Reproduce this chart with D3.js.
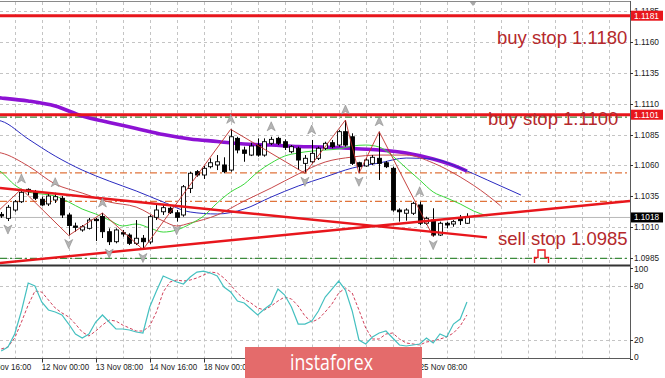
<!DOCTYPE html>
<html><head><meta charset="utf-8">
<script src="https://cdn.jsdelivr.net/npm/d3@7"></script>
<style>body{margin:0;background:#fff} svg{display:block;font-family:"Liberation Sans",Arial,sans-serif}</style>
</head><body><svg id="c" width="665" height="378"></svg>
<script>
// ---------- DATA (EURUSD H4) ----------
const openP  = [1.10205,1.10173,1.10240,1.10307,1.10407,1.10380,1.10327,1.10289,1.10321,1.10335,1.10200,1.10111,1.10079,1.10092,1.10165,1.10188,1.10065,1.09984,1.10057,1.10038,1.09971,1.10012,1.09982,1.10181,1.10226,1.10254,1.10218,1.10200,1.10415,1.10550,1.10523,1.10590,1.10604,1.10604,1.10563,1.10819,1.10725,1.10684,1.10765,1.10684,1.10779,1.10819,1.10792,1.10711,1.10739,1.10617,1.10630,1.10658,1.10739,1.10784,1.10765,1.10873,1.10832,1.10622,1.10596,1.10617,1.10658,1.10622,1.10577,1.10240,1.10214,1.10214,1.10281,1.10133,1.10159,1.10038,1.10133,1.10127,1.10173,1.10133];
const highP  = [1.10224,1.10281,1.10321,1.10410,1.10415,1.10402,1.10348,1.10369,1.10380,1.10353,1.10216,1.10138,1.10119,1.10176,1.10176,1.10216,1.10092,1.10092,1.10079,1.10052,1.10159,1.10038,1.10200,1.10281,1.10281,1.10268,1.10240,1.10442,1.10550,1.10563,1.10596,1.10658,1.10684,1.10666,1.10892,1.10832,1.10752,1.10784,1.10819,1.10819,1.10832,1.10832,1.10811,1.10765,1.10752,1.10684,1.10806,1.10752,1.10792,1.10806,1.10886,1.10967,1.10860,1.10630,1.10658,1.10684,1.10873,1.10636,1.10590,1.10254,1.10254,1.10307,1.10307,1.10186,1.10254,1.10146,1.10146,1.10159,1.10200,1.10214];
const lowP   = [1.10176,1.10151,1.10226,1.10297,1.10361,1.10321,1.10273,1.10273,1.10297,1.10176,1.10034,1.10065,1.10065,1.10083,1.09990,1.10014,1.09957,1.09971,1.10025,1.09957,1.09957,1.09921,1.09966,1.10159,1.10200,1.10208,1.10146,1.10186,1.10377,1.10509,1.10491,1.10577,1.10563,1.10537,1.10550,1.10698,1.10630,1.10676,1.10671,1.10671,1.10765,1.10765,1.10725,1.10698,1.10563,1.10537,1.10617,1.10644,1.10725,1.10739,1.10752,1.10752,1.10604,1.10537,1.10590,1.10604,1.10483,1.10579,1.10226,1.10146,1.10154,1.10200,1.10119,1.10119,1.10025,1.10030,1.10092,1.10105,1.10119,1.10127];
const closeP = [1.10192,1.10262,1.10307,1.10383,1.10388,1.10335,1.10281,1.10353,1.10348,1.10200,1.10115,1.10100,1.10105,1.10159,1.10154,1.10065,1.09984,1.10079,1.10046,1.09971,1.10012,1.09984,1.10186,1.10240,1.10259,1.10218,1.10181,1.10428,1.10537,1.10523,1.10577,1.10622,1.10630,1.10550,1.10832,1.10725,1.10698,1.10757,1.10684,1.10792,1.10811,1.10779,1.10747,1.10752,1.10644,1.10658,1.10698,1.10739,1.10779,1.10752,1.10873,1.10765,1.10617,1.10590,1.10644,1.10666,1.10617,1.10590,1.10240,1.10226,1.10240,1.10294,1.10133,1.10173,1.10038,1.10133,1.10119,1.10146,1.10154,1.10180];

// moving averages / alligator: [bar index, price]
const maPurple = [[-1,1.1115],[0,1.11145],[4,1.11121],[8,1.1108],[12,1.10999],[16,1.10947],[20,1.10899],[24,1.1085],[28,1.10814],[32,1.10794],[36,1.10773],[40,1.10765],[44,1.10753],[48,1.10749],[52,1.10737],[56,1.10725],[60,1.10701],[64,1.10652],[68,1.10579],[69,1.10555]];
const jaw   = [[-1,1.1097],[0,1.10959],[4,1.10814],[8,1.10676],[12,1.10563],[16,1.10474],[20,1.10394],[24,1.10305],[28,1.10224],[32,1.10208],[36,1.10248],[40,1.10345],[44,1.10434],[48,1.10507],[52,1.10579],[56,1.1062],[60,1.1066],[64,1.10652],[68,1.10579],[72,1.10483],[77,1.10361]];
const teeth = [[-1,1.1071],[0,1.10701],[4,1.10596],[8,1.1045],[12,1.10377],[16,1.10305],[20,1.10264],[24,1.10151],[26,1.10111],[28,1.10135],[32,1.102],[36,1.10313],[40,1.10418],[44,1.10531],[48,1.10628],[52,1.10668],[56,1.10684],[60,1.10684],[64,1.1062],[68,1.10507],[72,1.10361],[74,1.10273]];
const lips  = [[-1,1.1058],[0,1.10547],[2,1.10442],[4,1.10386],[8,1.10353],[10,1.10305],[12,1.10248],[14,1.10208],[16,1.10159],[18,1.10111],[20,1.10127],[22,1.10095],[24,1.10062],[26,1.10079],[28,1.10127],[30,1.10192],[32,1.10297],[34,1.10386],[36,1.1045],[38,1.10547],[40,1.1062],[42,1.10676],[44,1.10701],[48,1.10725],[50,1.10733],[52,1.10757],[54,1.10765],[56,1.10749],[58,1.10676],[60,1.10579],[62,1.10483],[64,1.10386],[66,1.10337],[68,1.10289],[70,1.10232],[72,1.10192]];
const zigzag = [[-3,1.1010],[3,1.1041],[10,1.10034],[15,1.10216],[21,1.09921],[34,1.10892],[45,1.10537],[51,1.10967],[53,1.10537],[56,1.10873],[64,1.10025]];
const fractalUp = [3,8,15,34,40,46,51,56,62];
const fractalDown = [1,10,16,21,26,45,53,64];

const redLevels = [1.1181, 1.1101];
const greenLevels = [1.1099, 1.0985];
const orangeLevels = [1.1054, 1.1031];
const bidPrice = 1.1018;
const trendLines = [[[-0.18,1.10418],[71.97,1.10019]], [[-0.18,1.09812],[93.16,1.10313]]];

const stochMain = [8.3,12.7,27.0,52.4,83.2,79.9,62.3,53.5,51.3,48.0,38.0,27.0,22.6,27.0,40.2,48.0,40.2,32.5,32.5,31.4,29.2,28.1,56.8,74.4,91.0,87.7,84.3,82.1,89.8,95.3,96.4,94.2,91.0,78.8,73.3,63.4,61.2,54.6,48.0,54.6,60.1,76.6,70.0,56.8,38.0,38.0,41.3,52.4,67.8,76.6,85.4,75.5,52.4,20.4,16.0,23.7,28.1,30.3,22.6,14.9,13.8,14.9,16.0,22.6,17.1,27.0,23.7,38.0,43.5,62.3];
const stochSignal = [10.5,12.7,22.6,40.2,59.0,74.4,73.3,64.5,55.7,50.2,45.8,38.0,29.2,24.8,30.3,36.9,42.4,41.3,36.9,33.6,30.3,30.3,35.8,51.3,73.3,84.3,86.5,85.4,86.5,88.8,92.1,95.4,94.3,88.8,81.0,72.2,65.6,61.2,55.7,53.5,57.9,63.4,67.8,65.6,57.9,46.9,40.2,43.5,51.3,60.1,72.2,77.7,72.2,53.5,33.6,21.5,21.5,27.0,28.1,21.5,17.1,16.0,14.9,18.2,19.3,21.5,23.7,28.1,35.8,48.0];

const priceTicks = [1.1185,1.1160,1.1135,1.1110,1.1085,1.1060,1.1035,1.1010,1.0985];
const stochTicks = [100,80,20,0];
const timeLabels = ["8 Nov 16:00","12 Nov 00:00","13 Nov 08:00","14 Nov 16:00","18 Nov 00:00","19 Nov 08:00","20 Nov 16:00","22 Nov 00:00","25 Nov 08:00"];
const timeLabelBars = [-2,6,14,22,30,38,46,54,62];
const notes = ["buy stop 1.1180","buy stop 1.1100","sell stop 1.0985"];

// ---------- CHART ----------
const svg = d3.select('#c');
const R = 630, mTop = 2, mBot = 265, sTop = 266.5, sBot = 358.5;
const x = d3.scaleLinear().domain([0, 92]).range([1.2, 1.2 + 6.75*92]);
const y = d3.scaleLinear().domain([1.0985, 1.1160]).range([258.3, 41.7]);
const ys = d3.scaleLinear().domain([0, 100]).range([358.5, 267.8]);

svg.append('rect').attr('width',665).attr('height',378).attr('fill','#fff');
const defs = svg.append('defs');
defs.append('clipPath').attr('id','cm').append('rect').attr('x',0).attr('y',mTop).attr('width',R).attr('height',mBot-mTop);
defs.append('clipPath').attr('id','cs').append('rect').attr('x',0).attr('y',sTop).attr('width',R).attr('height',sBot-sTop);

const gm = svg.append('g').attr('clip-path','url(#cm)');
const gs = svg.append('g').attr('clip-path','url(#cs)');

// grid
const gridBars = d3.range(2, 93, 4);
[ [gm,mTop,mBot], [gs,sTop,sBot] ].forEach(([g,t,b]) => {
  g.selectAll(null).data(gridBars).join('line')
    .attr('x1',d=>Math.round(x(d))+0.5).attr('x2',d=>Math.round(x(d))+0.5).attr('y1',t).attr('y2',b)
    .attr('stroke','#c4c4c4').attr('stroke-dasharray','3,3');
});
gm.selectAll(null).data(priceTicks).join('line')
  .attr('x1',0).attr('x2',R).attr('y1',d=>Math.round(y(d))+0.5).attr('y2',d=>Math.round(y(d))+0.5)
  .attr('stroke','#c4c4c4').attr('stroke-dasharray','3,3');
gs.selectAll(null).data([80,20]).join('line')
  .attr('x1',0).attr('x2',R).attr('y1',d=>Math.round(ys(d))+0.5).attr('y2',d=>Math.round(ys(d))+0.5)
  .attr('stroke','#c4c4c4').attr('stroke-dasharray','3,3');

// bid line
gm.append('line').attr('x1',0).attr('x2',R).attr('y1',y(bidPrice)).attr('y2',y(bidPrice)).attr('stroke','#b8b8b8');

// dash-dot levels
gm.selectAll(null).data(orangeLevels).join('line')
  .attr('x1',0).attr('x2',R).attr('y1',d=>y(d)).attr('y2',d=>y(d))
  .attr('stroke','#e0743c').attr('stroke-width',1.2).attr('stroke-dasharray','7,3,2,3');
gm.selectAll(null).data(greenLevels).join('line')
  .attr('x1',0).attr('x2',R).attr('y1',d=>y(d)).attr('y2',d=>y(d))
  .attr('stroke','#3c8c3c').attr('stroke-width',1.2).attr('stroke-dasharray','7,3,2,3');

// moving averages
const lineGen = d3.line().x(d=>x(d[0])).y(d=>y(d[1])).curve(d3.curveMonotoneX);
gm.append('path').attr('d',lineGen(maPurple)).attr('fill','none').attr('stroke','#8d12d4').attr('stroke-width',3.6);
gm.append('path').attr('d',lineGen(jaw)).attr('fill','none').attr('stroke','#2a2ac0').attr('stroke-width',1);
gm.append('path').attr('d',lineGen(teeth)).attr('fill','none').attr('stroke','#c8484a').attr('stroke-width',1);
gm.append('path').attr('d',lineGen(lips)).attr('fill','none').attr('stroke','#3ad83a').attr('stroke-width',1);

// candles
const bars = d3.range(openP.length);
gm.selectAll(null).data(bars).join('line')
  .attr('x1',i=>Math.round(x(i))+0.5).attr('x2',i=>Math.round(x(i))+0.5)
  .attr('y1',i=>y(highP[i])).attr('y2',i=>y(lowP[i])).attr('stroke','#000');
gm.selectAll(null).data(bars).join('rect')
  .attr('x',i=>Math.round(x(i))-1.5).attr('width',4)
  .attr('y',i=>y(Math.max(openP[i],closeP[i])))
  .attr('height',i=>Math.max(1,Math.abs(y(openP[i])-y(closeP[i]))))
  .attr('fill',i=>closeP[i]>=openP[i]?'#fff':'#000').attr('stroke','#000').attr('stroke-width',0.9);

// zigzag
gm.append('path').attr('d',d3.line().x(d=>x(d[0])).y(d=>y(d[1]))(zigzag))
  .attr('fill','none').attr('stroke','#c0302c').attr('stroke-width',0.9);

// trend lines
gm.selectAll(null).data(trendLines).join('line')
  .attr('x1',d=>x(d[0][0])).attr('y1',d=>y(d[0][1])).attr('x2',d=>x(d[1][0])).attr('y2',d=>y(d[1][1]))
  .attr('stroke','#e8161c').attr('stroke-width',2.4);

// red horizontal levels
gm.selectAll(null).data(redLevels).join('line')
  .attr('x1',0).attr('x2',R).attr('y1',d=>y(d)).attr('y2',d=>y(d))
  .attr('stroke','#e8161c').attr('stroke-width',3);

// fractals
const arrowUp = (cx,cy)=>`M${cx},${cy-5}L${cx+4},${cy+4}L${cx},${cy+1.5}L${cx-4},${cy+4}Z`;
const arrowDn = (cx,cy)=>`M${cx},${cy+5}L${cx+4},${cy-4}L${cx},${cy-1.5}L${cx-4},${cy-4}Z`;
gm.selectAll(null).data(fractalUp).join('path')
  .attr('d',i=>arrowUp(x(i), y(highP[i])-10)).attr('fill','#b4b4b4').attr('stroke','#8c8c8c').attr('stroke-width',0.6);
gm.selectAll(null).data(fractalDown).join('path')
  .attr('d',i=>arrowDn(x(i), y(lowP[i])+8)).attr('fill','#b4b4b4').attr('stroke','#8c8c8c').attr('stroke-width',0.6);

// annotations
const noteCol = '#b5292c';
gm.append('text').attr('x',497).attr('y',44).text(notes[0]).attr('font-size',18.5).attr('fill',noteCol);
gm.append('text').attr('x',488).attr('y',124.5).text(notes[1]).attr('font-size',18.5).attr('fill',noteCol);
gm.append('text').attr('x',498).attr('y',244.5).text(notes[2]).attr('font-size',18.5).attr('fill',noteCol);
gm.append('path').attr('d','M534.5,263V257.5H538V250H545V257.5H548.5V263').attr('fill','none').attr('stroke','#e8161c').attr('stroke-width',1.4);

// chart-shift marker
svg.append('path').attr('d','M469,1L477,1L473,6Z').attr('fill','#a8a8a8');

// stochastic
const sl = d3.line().x((d,i)=>x(i)).y(d=>ys(d));
gs.append('path').attr('d',sl(stochSignal)).attr('fill','none').attr('stroke','#d0405a').attr('stroke-width',1).attr('stroke-dasharray','3,2');
gs.append('path').attr('d',sl(stochMain)).attr('fill','none').attr('stroke','#45c0c0').attr('stroke-width',1.2);

// frame
svg.append('line').attr('x1',0).attr('x2',R).attr('y1',1.5).attr('y2',1.5).attr('stroke','#8a8a8a');
svg.append('line').attr('x1',R+0.5).attr('x2',R+0.5).attr('y1',1).attr('y2',sBot).attr('stroke','#5a5a5a');
svg.append('line').attr('x1',0).attr('x2',R).attr('y1',265.5).attr('y2',265.5).attr('stroke','#333').attr('stroke-width',2);
svg.append('line').attr('x1',0).attr('x2',R+1).attr('y1',sBot).attr('y2',sBot).attr('stroke','#5a5a5a');

// right price axis
const ax = svg.append('g').attr('font-size',8.5).attr('fill','#222');
ax.selectAll(null).data(priceTicks).join('line')
  .attr('x1',R).attr('x2',R+3).attr('y1',d=>Math.round(y(d))+0.5).attr('y2',d=>Math.round(y(d))+0.5).attr('stroke','#333');
ax.selectAll(null).data(priceTicks).join('text')
  .attr('x',634).attr('y',d=>y(d)+3).text(d=>d3.format('.4f')(d))
  .attr('textLength',25).attr('lengthAdjust','spacingAndGlyphs');
ax.selectAll(null).data(stochTicks).join('line')
  .attr('x1',R).attr('x2',R+3).attr('y1',d=>Math.round(ys(d))+0.5).attr('y2',d=>Math.round(ys(d))+0.5).attr('stroke','#333');
ax.selectAll(null).data(stochTicks).join('text')
  .attr('x',634).attr('y',d=>ys(d)+3 + (d===100?1.5:0) + (d===0?-1.5:0)).text(d=>d);

// price boxes
const boxes = [[redLevels[0],'#e8161c'],[redLevels[1],'#e8161c'],[bidPrice,'#000']];
boxes.forEach(([p,c])=>{
  ax.append('rect').attr('x',631).attr('y',y(p)-5).attr('width',32).attr('height',10).attr('fill',c);
  ax.append('text').attr('x',634).attr('y',y(p)+3).text(d3.format('.4f')(p)).attr('fill','#fff')
    .attr('textLength',25).attr('lengthAdjust','spacingAndGlyphs');
});

// time axis
const tx = svg.append('g').attr('font-size',8.5).attr('fill','#222');
tx.selectAll(null).data(timeLabelBars).join('line')
  .attr('x1',d=>Math.round(x(d))+0.5).attr('x2',d=>Math.round(x(d))+0.5).attr('y1',sBot).attr('y2',sBot+4).attr('stroke','#333');
tx.selectAll(null).data(timeLabelBars).join('text')
  .attr('x',d=>x(d)).attr('y',369.5).text((d,i)=>timeLabels[i])
  .attr('textLength',(d,i)=>timeLabels[i].length*3.95).attr('lengthAdjust','spacingAndGlyphs');

// watermark
svg.append('rect').attr('x',245).attr('y',347).attr('width',177).attr('height',31).attr('fill','#e46b6b');
svg.append('text').attr('x',290).attr('y',370).text('instaforex').attr('fill','#fff')
  .attr('font-family','"Open Sans",sans-serif').attr('font-size',21)
  .attr('textLength',83).attr('lengthAdjust','spacingAndGlyphs');
</script></body></html>
